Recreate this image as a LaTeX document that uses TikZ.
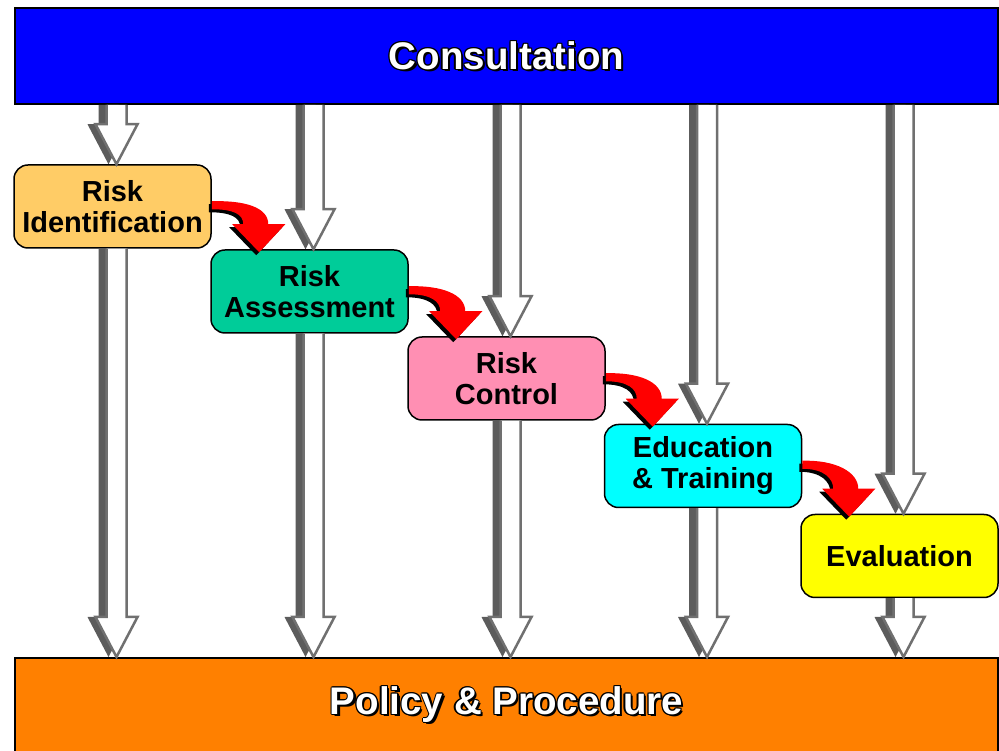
\documentclass[tikz,border=0pt]{standalone}
\usepackage{fontspec}
\setmainfont{Liberation Sans}
\usetikzlibrary{calc}

\definecolor{consultblue}{RGB}{0,0,255}
\definecolor{policyorange}{RGB}{255,128,0}
\definecolor{identcol}{RGB}{255,204,102}
\definecolor{assesscol}{RGB}{0,204,153}
\definecolor{controlcol}{RGB}{255,143,179}
\definecolor{traincol}{RGB}{0,255,255}
\definecolor{evalcol}{RGB}{255,255,0}
\definecolor{arrowedge}{RGB}{112,112,112}
\definecolor{arrowshade}{RGB}{92,92,92}

% white lettering with a black rim
\newcommand\haloword[1]{%
  \rlap{\color{black}\kern2.2pt\raisebox{-2.2pt}{#1}}%
  \rlap{\color{black}\kern-1.3pt#1}%
  \rlap{\color{black}\kern1.3pt#1}%
  \rlap{\color{black}\raisebox{1.3pt}{#1}}%
  \rlap{\color{black}\raisebox{-1.3pt}{#1}}%
  \rlap{\color{black}\kern0.9pt\raisebox{0.9pt}{#1}}%
  \rlap{\color{black}\kern-0.9pt\raisebox{-0.9pt}{#1}}%
  \rlap{\color{black}\kern0.9pt\raisebox{-0.9pt}{#1}}%
  \rlap{\color{black}\kern-0.9pt\raisebox{0.9pt}{#1}}%
  {\color{white}#1}}

\newcommand\hollowdown[2]{%
  \fill[arrowshade, transform canvas={xshift=-8pt}] let \p1=#1, \p2=#2 in
    (\x1-6pt,\y1) -- (\x1+14pt,\y1) -- (\x1+14pt,\y2+40pt) -- (\x1+25pt,\y2+40pt)
    -- (\x1+4pt,\y2) -- (\x1-17pt,\y2+40pt) -- (\x1-6pt,\y2+40pt) -- cycle;
  \fill[white] let \p1=#1, \p2=#2 in
    (\x1-6pt,\y1) -- (\x1+14pt,\y1) -- (\x1+14pt,\y2+40pt) -- (\x1+25pt,\y2+40pt)
    -- (\x1+4pt,\y2) -- (\x1-17pt,\y2+40pt) -- (\x1-6pt,\y2+40pt) -- cycle;
  \draw[arrowedge, line width=2.5pt] let \p1=#1, \p2=#2 in
    (\x1-6pt,\y1) -- (\x1-6pt,\y2+40pt) -- (\x1-17pt,\y2+40pt) -- (\x1+4pt,\y2)
    -- (\x1+25pt,\y2+40pt) -- (\x1+14pt,\y2+40pt) -- (\x1+14pt,\y1);
}

\newcommand\bendshape{(\x1,\y1-37pt) .. controls (\x1+33pt,\y1-36pt) and (\x2+58pt,\y2+42pt) .. (\x2+58pt,\y2+25pt)
  -- (\x2+75pt,\y2+25pt) -- (\x2+49pt,\y2-3pt) -- (\x2+22pt,\y2+25pt) -- (\x2+33pt,\y2+25pt)
  .. controls (\x2+33pt,\y2+35pt) and (\x1+22pt,\y1-45pt) .. (\x1,\y1-45pt) -- cycle}
\newcommand\bendarrow[2]{%
  \fill[black, transform canvas={shift={(-3pt,-3pt)}}] let \p1=(#1.north east), \p2=(#2.north west) in \bendshape;
  \fill[red] let \p1=(#1.north east), \p2=(#2.north west) in \bendshape;
}

\begin{document}
\begin{tikzpicture}[x=1pt, y=1pt]
  \tikzset{band/.style={draw=black, line width=2pt, minimum width=983pt, inner sep=0pt,
      font=\fontsize{38.5}{40}\selectfont\bfseries},
    stage/.style={draw=black, line width=1.5pt, rounded corners=14pt, minimum width=197pt,
      minimum height=83pt, inner sep=0pt, align=center, font=\fontsize{29}{31}\selectfont\bfseries}}
  \useasboundingbox (0,0) rectangle (999,750);

  \node[band, fill=consultblue, minimum height=96pt] (consult) at (506.5,694) {\haloword{Consultation}};
  \node[band, fill=policyorange, minimum height=94pt] (policy) at (506.5,45) {\haloword{Policy \& Procedure}};

  \node[stage, fill=identcol] (ident) at (112.5,543.5) {Risk\\Identification};
  \node[stage, fill=assesscol] (assess) at (309.5,458.5) {Risk\\Assessment};
  \node[stage, fill=controlcol] (control) at (506.5,371.5) {Risk\\Control};
  \node[stage, fill=traincol] (train) at (703,284) {Education\\\& Training};
  \node[stage, fill=evalcol] (evalu) at (899.5,194) {Evaluation};

  \foreach \s in {ident, assess, control, train, evalu} {
    \hollowdown{(consult.south -| \s.north)}{(\s.north)}
    \hollowdown{(\s.south)}{(policy.north -| \s.south)}
  }

  \bendarrow{ident}{assess}
  \bendarrow{assess}{control}
  \bendarrow{control}{train}
  \bendarrow{train}{evalu}
\end{tikzpicture}
\end{document}
